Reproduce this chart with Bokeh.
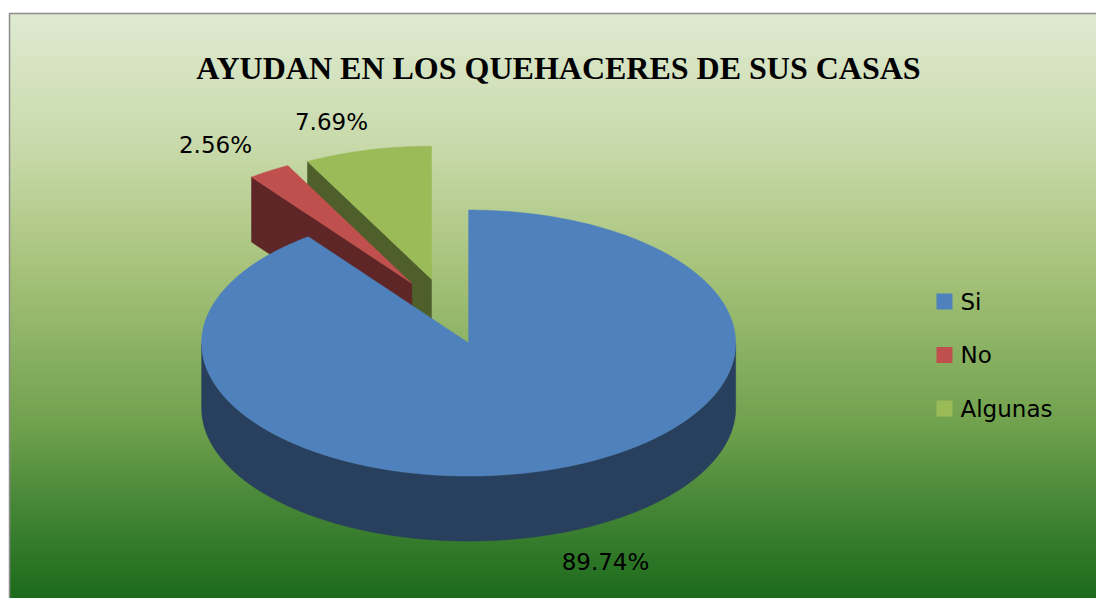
import numpy as np
from bokeh.plotting import figure
from bokeh.models import Range1d
from bokeh.core.properties import value
from bokeh.embed import file_html
from bokeh.resources import INLINE

# ---------------- data ----------------
title_text = "AYUDAN EN LOS QUEHACERES DE SUS CASAS"
categories = ["Si", "No", "Algunas"]
percent = [89.74, 2.56, 7.69]
pct_labels = ["89.74%", "2.56%", "7.69%"]

# ---------------- style / layout ----------------
top_colors = ["#4F81BD", "#C0504D", "#9BBB59"]
side_colors = ["#283F5E", "#5F2627", "#4E5F2C"]
W, H = 1096, 598
CX, CY = 447.0, 311.0      # pie centre (px)
RX, RY = 267.0, 133.0
DEPTH = 65.0
EXPLODE = 0.25
label_pos_x = [605, 215, 331]
label_pos_y = [561, 144, 121]
grad_stops_y = [13, 150, 270, 430, 500, 598]
grad_stops_c = [(223, 234, 209), (199, 217, 169), (166, 194, 122),
                (110, 160, 76), (72, 136, 56), (28, 106, 28)]

p = figure(width=W, height=H, x_range=Range1d(0, W), y_range=Range1d(H, 0),
           output_backend="svg", toolbar_location=None, min_border=0,
           x_axis_type=None, y_axis_type=None)
p.grid.visible = False
p.outline_line_color = None
p.background_fill_color = "white"
p.border_fill_color = "white"

# ---------------- background gradient ----------------
BX0, BY0 = 9, 13
band = 2
ys0 = np.arange(BY0, H, band)
sy = np.array(grad_stops_y, float)
cs = np.array(grad_stops_c, float)
cols = []
for y in ys0:
    c = [np.interp(y + band / 2, sy, cs[:, k]) for k in range(3)]
    cols.append("#%02x%02x%02x" % tuple(int(round(v)) for v in c))
p.quad(left=BX0, right=W, top=ys0, bottom=ys0 + band + 0.5, fill_color=cols,
       line_color=None)
p.line(x=[BX0, BX0, W], y=[H, BY0, BY0], line_color="#8c8c8c", line_width=1.5)

# ---------------- 3D pie ----------------
fr = np.array(percent) / np.sum(percent)
ends = np.cumsum(fr) * 2 * np.pi
starts = ends - fr * 2 * np.pi

walls = []
tops = []
for i in range(len(percent)):
    a0, a1 = starts[i], ends[i]
    mid = (a0 + a1) / 2
    ox = CX + EXPLODE * RX * np.sin(mid)
    oy = CY - EXPLODE * RY * np.cos(mid)
    t = np.linspace(a0, a1, max(4, int((a1 - a0) * 80)))
    ax = ox + RX * np.sin(t)
    ay = oy - RY * np.cos(t)
    tops.append(([ox] + list(ax), [oy] + list(ay), top_colors[i]))
    lo, hi = max(a0, np.pi / 2), min(a1, 3 * np.pi / 2)
    if hi > lo:
        tt = np.linspace(lo, hi, 300)
        wx = ox + RX * np.sin(tt)
        wy = oy - RY * np.cos(tt)
        xs = list(wx) + list(wx[::-1])
        ys = list(wy) + list(wy[::-1] + DEPTH)
        walls.append((np.mean(ys), xs, ys, side_colors[i]))
    for a, vis in ((a0, np.sin(a0) < -1e-6), (a1, np.sin(a1) > 1e-6)):
        if vis:
            ex = ox + RX * np.sin(a)
            ey = oy - RY * np.cos(a)
            xs = [ox, ex, ex, ox]
            ys = [oy, ey, ey + DEPTH, oy + DEPTH]
            walls.append((np.mean(ys), xs, ys, side_colors[i]))

walls.sort(key=lambda w: w[0])
p.patches(xs=[w[1] for w in walls], ys=[w[2] for w in walls],
          fill_color=[w[3] for w in walls], line_color=[w[3] for w in walls],
          line_width=0.5)
p.patches(xs=[t[0] for t in tops], ys=[t[1] for t in tops],
          fill_color=[t[2] for t in tops], line_color=[t[2] for t in tops],
          line_width=0.5)

# ---------------- labels ----------------
p.text(x=label_pos_x, y=label_pos_y, text=pct_labels, text_align="center",
       text_baseline="middle", text_font=value("DejaVu Sans"),
       text_font_size="23px", text_color="black")

# ---------------- title ----------------
p.text(x=[558], y=[67], text=[title_text], text_align="center",
       text_baseline="alphabetic", text_font=value("Liberation Serif"),
       text_font_style="bold", text_font_size="32px", text_color="black")

# ---------------- legend ----------------
LX, LY0, LDY, SQ = 936, 301, 53.5, 16
ly = [LY0 + k * LDY for k in range(len(categories))]
p.quad(left=LX, right=LX + SQ, top=[y - SQ / 2 for y in ly],
       bottom=[y + SQ / 2 for y in ly], fill_color=top_colors, line_color=None)
p.text(x=LX + SQ + 8, y=ly, text=categories, text_align="left",
       text_baseline="middle", text_font=value("DejaVu Sans"),
       text_font_size="23px", text_color="black")

open("out.html", "w").write(file_html(p, INLINE))
